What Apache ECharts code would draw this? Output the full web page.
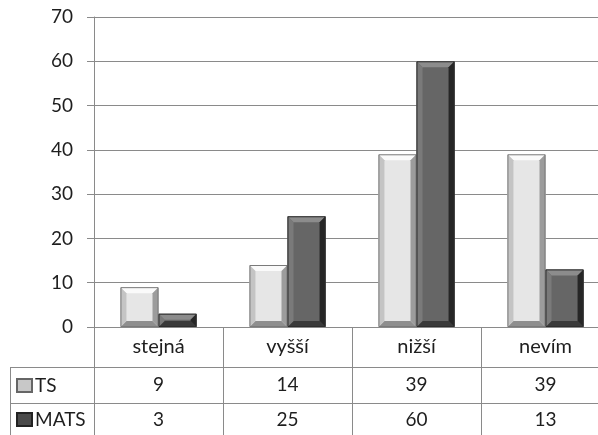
<!DOCTYPE html>
<html>
<head>
<meta charset="utf-8">
<script src="https://cdn.jsdelivr.net/npm/echarts@6/dist/echarts.min.js"></script>
<style>
  html, body { margin: 0; padding: 0; background: #fff; overflow: hidden; }
  #chart { width: 610px; height: 435px; }
</style>
</head>
<body>
<div id="chart"></div>
<script>
// Answer categories and counts per group
const categories = ['stejná', 'vyšší', 'nižší', 'nevím'];
const seriesNames = ['TS', 'MATS'];
const tsValues = [9, 14, 39, 39];
const matsValues = [3, 25, 60, 13];
const yTicks = { min: 0, max: 70, interval: 10 };

const FONT = 'Lato, "Open Sans", sans-serif';
const LINE = '#8a8a8a';
const TEXT = '#1e1e1e';

// Shading for the bevelled bars: face, top, left, right, bottom, outline
const palettes = [
  { face: '#e6e6e6', top: '#fafafa', left: '#c4c4c4', right: '#9c9c9c', bottom: '#8e8e8e', edge: '#7a7a7a' },
  { face: '#666666', top: '#8c8c8c', left: '#7a7a7a', right: '#262626', bottom: '#3a3a3a', edge: '#2e2e2e' }
];

function bevelBar(pal, side) {
  return function (params, api) {
    const idx = api.value(0);
    const val = api.value(1);
    const base = api.coord([idx, 0]);
    const top = api.coord([idx, val]);
    const band = api.size([1, 0])[0];
    const w = band * 0.295;
    const x0 = side === 0 ? base[0] - w : base[0];
    const x1 = x0 + w;
    const y0 = top[1];
    const y1 = base[1];
    const b = Math.min(6, (y1 - y0) / 2, w / 2);
    const poly = (pts, fill) => ({ type: 'polygon', shape: { points: pts }, style: { fill: fill } });
    return {
      type: 'group',
      children: [
        { type: 'rect', shape: { x: x0, y: y0, width: w, height: y1 - y0 }, style: { fill: pal.face } },
        poly([[x0, y0], [x1, y0], [x1 - b, y0 + b], [x0 + b, y0 + b]], pal.top),
        poly([[x0, y1], [x1, y1], [x1 - b, y1 - b], [x0 + b, y1 - b]], pal.bottom),
        poly([[x0, y0], [x0 + b, y0 + b], [x0 + b, y1 - b], [x0, y1]], pal.left),
        poly([[x1, y0], [x1 - b, y0 + b], [x1 - b, y1 - b], [x1, y1]], pal.right),
        { type: 'rect', shape: { x: x0 + 0.5, y: y0 + 0.5, width: w - 1, height: y1 - y0 - 1 },
          style: { fill: 'none', stroke: pal.edge, lineWidth: 1 } }
      ]
    };
  };
}

const chart = echarts.init(document.getElementById('chart'), null, { renderer: 'canvas' });

const gridLeft = 94, gridTop = 17, gridHeight = 310;
const rowTop1 = gridTop + gridHeight + 40;   // line under category row
const rowTop2 = rowTop1 + 36;                // line between TS and MATS rows

function legendFor(name, top) {
  return {
    orient: 'horizontal',
    left: 16,
    top: top,
    itemWidth: 15,
    itemHeight: 13,
    icon: 'rect',
    data: [name],
    padding: 0,
    selectedMode: false,
    textStyle: { fontFamily: FONT, fontSize: 19, color: TEXT, padding: [0, 0, 0, -2] }
  };
}

const option = {
  animation: false,
  backgroundColor: '#fff',
  textStyle: { fontFamily: FONT },
  grid: { left: gridLeft, top: gridTop, right: 0, height: gridHeight },
  legend: [
    legendFor(seriesNames[0], rowTop1 + 9),
    legendFor(seriesNames[1], rowTop2 + 7)
  ],
  xAxis: [
    {
      type: 'category',
      data: categories,
      position: 'bottom',
      axisLine: { show: true, lineStyle: { color: LINE, width: 1 } },
      axisTick: { show: true, length: 110, interval: 0, lineStyle: { color: LINE } },
      axisLabel: { fontSize: 20, color: TEXT, margin: 10, fontFamily: FONT },
      splitLine: { show: false }
    },
    {
      type: 'category',
      data: tsValues.map(String),
      position: 'bottom',
      offset: 40,
      axisLine: { show: true, lineStyle: { color: LINE } },
      axisTick: { show: false },
      axisLabel: { fontSize: 19, color: TEXT, margin: 8, fontFamily: FONT }
    },
    {
      type: 'category',
      data: matsValues.map(String),
      position: 'bottom',
      offset: 76,
      axisLine: { show: true, lineStyle: { color: LINE } },
      axisTick: { show: false },
      axisLabel: { fontSize: 19, color: TEXT, margin: 7, fontFamily: FONT }
    }
  ],
  yAxis: {
    type: 'value',
    min: yTicks.min,
    max: yTicks.max,
    interval: yTicks.interval,
    axisLine: { show: true, lineStyle: { color: LINE } },
    axisTick: { show: true, length: 7, lineStyle: { color: LINE } },
    axisLabel: { fontSize: 19, color: TEXT, margin: 21, fontFamily: FONT },
    splitLine: { show: true, lineStyle: { color: LINE, width: 1.2 } }
  },
  series: [
    {
      name: seriesNames[0],
      type: 'custom',
      xAxisIndex: 0,
      itemStyle: { color: '#c8c8c8', borderColor: '#666', borderWidth: 1 },
      renderItem: bevelBar(palettes[0], 0),
      encode: { x: 0, y: 1 },
      data: tsValues.map((v, i) => [i, v])
    },
    {
      name: seriesNames[1],
      type: 'custom',
      xAxisIndex: 0,
      itemStyle: { color: '#4a4a4a', borderColor: '#222', borderWidth: 1 },
      renderItem: bevelBar(palettes[1], 1),
      encode: { x: 0, y: 1 },
      data: matsValues.map((v, i) => [i, v])
    }
  ],
  graphic: [
    // left part of the data table (series name column)
    { type: 'line', shape: { x1: 10, y1: rowTop1 + 0.5, x2: gridLeft, y2: rowTop1 + 0.5 }, style: { stroke: LINE, lineWidth: 1 } },
    { type: 'line', shape: { x1: 10, y1: rowTop2 + 0.5, x2: gridLeft, y2: rowTop2 + 0.5 }, style: { stroke: LINE, lineWidth: 1 } },
    { type: 'line', shape: { x1: 10.5, y1: rowTop1, x2: 10.5, y2: 435 }, style: { stroke: LINE, lineWidth: 1 } }
  ]
};

chart.setOption(option);
</script>
</body>
</html>
